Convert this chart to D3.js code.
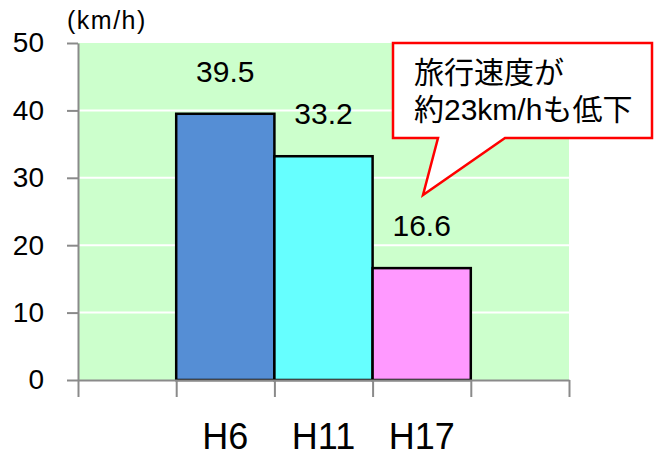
<!DOCTYPE html>
<html>
<head>
<meta charset="utf-8">
<script src="https://cdn.jsdelivr.net/npm/d3@7"></script>
<style>
  body { margin: 0; background: #fff; }
  svg { display: block; font-family: "Liberation Sans", Arial, "Noto Sans CJK JP", sans-serif; }
</style>
</head>
<body>
<div id="chart"></div>
<script>
// data
const categories = ["H6", "H11", "H17"];
const speeds = [39.5, 33.2, 16.6];
const barColors = ["#558ED5", "#66FFFF", "#FF99FF"];
const yTicks = [0, 10, 20, 30, 40, 50];
const unitLabel = "(km/h)";
const calloutLines = ["旅行速度が", "約23km/hも低下"];

const width = 654;
const height = 457;
const marginTop = 43;
const marginLeft = 78;
const plotRight = 569;
const plotBottom = 380;
const axisColor = "#8a8a8a";

// one empty slot on each side of the bars
const x = d3.scaleLinear()
  .domain([-1, categories.length + 1])
  .range([marginLeft, plotRight]);

const y = d3.scaleLinear()
  .domain([0, 50])
  .range([plotBottom, marginTop]);

const svg = d3.create("svg")
  .attr("width", width)
  .attr("height", height)
  .attr("viewBox", [0, 0, width, height]);

d3.select("#chart").append(() => svg.node());

// plot background
svg.append("rect")
  .attr("x", x(-1))
  .attr("y", y(50))
  .attr("width", x(categories.length + 1) - x(-1))
  .attr("height", y(0) - y(50))
  .attr("fill", "#CCFFCC");

// white grid lines
svg.append("g")
  .selectAll("line")
  .data(yTicks.filter(d => d > 0 && d < 50))
  .join("line")
  .attr("x1", x(-1))
  .attr("x2", x(categories.length + 1))
  .attr("y1", d => y(d))
  .attr("y2", d => y(d))
  .attr("stroke", "#fff")
  .attr("stroke-width", 2);

// bars
svg.append("g")
  .selectAll("rect")
  .data(speeds)
  .join("rect")
  .attr("x", (d, i) => x(i))
  .attr("y", d => y(d))
  .attr("width", (d, i) => x(i + 1) - x(i))
  .attr("height", d => y(0) - y(d))
  .attr("fill", (d, i) => barColors[i])
  .attr("stroke", "#000")
  .attr("stroke-width", 2.5);

// y axis
svg.append("g")
  .attr("transform", `translate(${marginLeft},0)`)
  .call(d3.axisLeft(y).tickValues(yTicks).tickSize(11).tickSizeOuter(0).tickPadding(23))
  .call(g => g.select(".domain").attr("stroke", axisColor).attr("stroke-width", 2))
  .call(g => g.selectAll(".tick line").attr("stroke", axisColor).attr("stroke-width", 2))
  .call(g => g.selectAll(".tick text")
    .attr("font-size", 28)
    .attr("font-family", "Liberation Sans, Arial, sans-serif")
    .attr("fill", "#000"));

// x axis with ticks at slot boundaries
svg.append("g")
  .attr("transform", `translate(0,${plotBottom})`)
  .call(d3.axisBottom(x).tickValues(d3.range(-1, categories.length + 2)).tickSize(17).tickSizeOuter(0).tickFormat(""))
  .call(g => g.select(".domain").attr("stroke", axisColor).attr("stroke-width", 2))
  .call(g => g.selectAll(".tick line").attr("stroke", axisColor).attr("stroke-width", 2));

// category labels
svg.append("g")
  .selectAll("text")
  .data(categories)
  .join("text")
  .attr("x", (d, i) => x(i + 0.5))
  .attr("y", 449)
  .attr("text-anchor", "middle")
  .attr("font-size", 36)
  .attr("fill", "#000")
  .text(d => d);

// value labels
svg.append("g")
  .selectAll("text")
  .data(speeds)
  .join("text")
  .attr("x", (d, i) => x(i + 0.5))
  .attr("y", d => y(d) - 32)
  .attr("text-anchor", "middle")
  .attr("font-size", 30)
  .attr("fill", "#000")
  .text(d => d.toFixed(1));

// unit label
svg.append("text")
  .attr("x", 67)
  .attr("y", 29)
  .attr("font-size", 25)
  .attr("letter-spacing", 1.5)
  .attr("fill", "#000")
  .text(unitLabel);

// callout
const callout = svg.append("g");
callout.append("path")
  .attr("d", "M393,43 H652 V138 H505 L423,195 L438,138 H393 Z")
  .attr("fill", "#fff")
  .attr("stroke", "#FF0000")
  .attr("stroke-width", 2.5)
  .attr("stroke-linejoin", "miter");

callout.selectAll("text")
  .data(calloutLines)
  .join("text")
  .attr("x", 414)
  .attr("y", (d, i) => 83 + i * 37)
  .attr("font-size", 30)
  .attr("font-family", "Liberation Sans, Arial, 'Noto Sans CJK JP', sans-serif")
  .attr("fill", "#000")
  .text(d => d);
</script>
</body>
</html>
